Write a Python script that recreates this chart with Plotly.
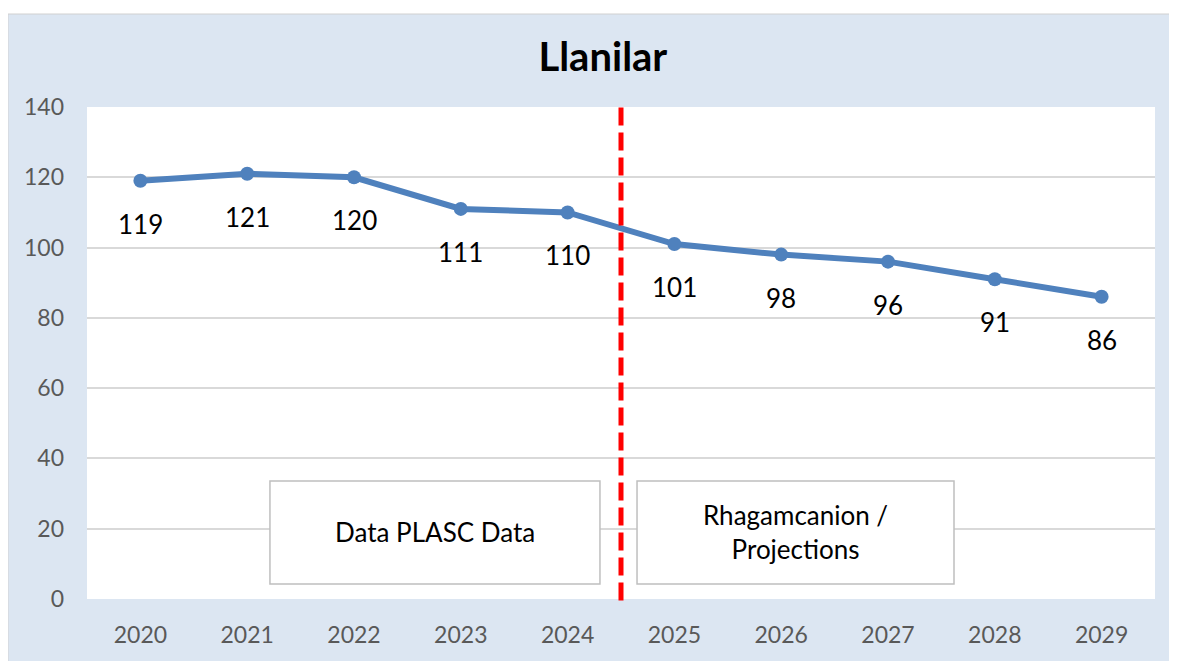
import plotly.graph_objects as go

years = ["2020", "2021", "2022", "2023", "2024", "2025", "2026", "2027", "2028", "2029"]
values = [119, 121, 120, 111, 110, 101, 98, 96, 91, 86]
title_text = "Llanilar"
box_left_text = "Data PLASC Data"
box_right_text = "Rhagamcanion /<br>Projections"

FONT = "Lato, Calibri, Carlito, sans-serif"
BLUE = "#4f81bd"

W, H = 1169, 653
ML, MT, MR, MB = 79, 99, 22, 62

fig = go.Figure()
fig.add_trace(go.Scatter(
    x=list(range(len(years))), y=values, mode="lines+markers",
    line=dict(color=BLUE, width=6), marker=dict(color=BLUE, size=14),
    hoverinfo="skip", showlegend=False,
))

for i, v in enumerate(values):
    fig.add_annotation(x=i, y=v, text=str(v), showarrow=False, yshift=-43,
                       font=dict(family=FONT, size=26, color="#000000"))

# chart background area (light blue) and plot area (white)
fig.add_shape(type="rect", xref="paper", yref="paper", x0=-0.074, x1=1.04, y0=-0.2, y1=1.189,
              fillcolor="#dce6f2", line=dict(color="#d0d0d0", width=1), layer="below")
fig.add_shape(type="rect", xref="paper", yref="paper", x0=0, x1=1, y0=0, y1=1,
              fillcolor="#ffffff", line=dict(width=0), layer="below")

# red dashed divider
fig.add_shape(type="line", xref="x", yref="paper", x0=4.5, x1=4.5, y0=-0.003, y1=1.004,
              line=dict(color="#ff0000", width=5, dash="18px,7px"))

# text boxes
fig.add_shape(type="rect", xref="x", yref="y", x0=1.213, x1=4.303, y0=4.3, y1=33.6,
              fillcolor="#ffffff", line=dict(color="#bfbfbf", width=1.5))
fig.add_shape(type="rect", xref="x", yref="y", x0=4.65, x1=7.618, y0=4.3, y1=33.6,
              fillcolor="#ffffff", line=dict(color="#bfbfbf", width=1.5))
fig.add_annotation(x=(1.213 + 4.303) / 2, y=19, xref="x", yref="y", text=box_left_text,
                   showarrow=False, font=dict(family=FONT, size=26, color="#000000"))
fig.add_annotation(x=(4.65 + 7.618) / 2, y=19, xref="x", yref="y", text=box_right_text,
                   showarrow=False, font=dict(family=FONT, size=26, color="#000000"))

fig.update_layout(
    width=W, height=H,
    margin=dict(l=ML, r=MR, t=MT, b=MB),
    paper_bgcolor="#ffffff", plot_bgcolor="#ffffff",
    title=dict(text="<b>" + title_text + "</b>", x=0.483, xanchor="center", xref="paper",
               y=1 - 49 / H, yanchor="middle", yref="container",
               font=dict(family=FONT, size=40, color="#000000")),
    xaxis=dict(range=[-0.5, 9.5], tickmode="array", tickvals=list(range(len(years))),
               ticktext=years, showgrid=False, zeroline=False, showline=False,
               ticks="", ticklabelstandoff=20,
               tickfont=dict(family=FONT, size=23, color="#595959")),
    yaxis=dict(range=[0, 140], dtick=20, showgrid=True, gridcolor="#d9d9d9", gridwidth=1.5,
               zeroline=False, showline=False, ticks="", ticklabelstandoff=22,
               tickfont=dict(family=FONT, size=23, color="#595959")),
)

fig.write_html("out.html")
